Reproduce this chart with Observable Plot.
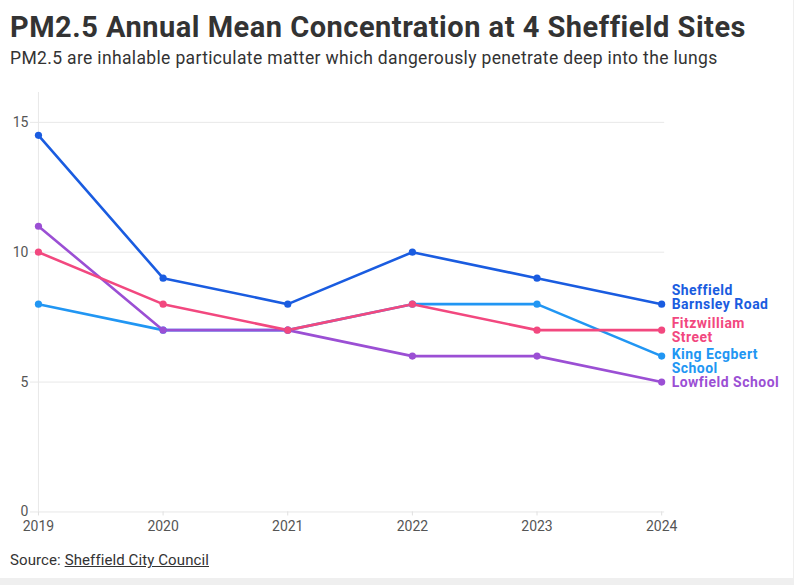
<!DOCTYPE html>
<html>
<head>
<meta charset="utf-8">
<script src="https://cdn.jsdelivr.net/npm/d3@7"></script>
<script src="https://cdn.jsdelivr.net/npm/@observablehq/plot@0.6"></script>
<style>
  html, body { margin: 0; padding: 0; background: #efefef; }
  #frame { width: 793px; height: 578px; background: #fff; position: relative; overflow: hidden; font-family: Roboto, "Noto Sans", sans-serif; }
  h1 { position: absolute; left: 10px; top: 10px; margin: 0; font-size: 29px; font-weight: 700; color: #333; letter-spacing: 0.5px; white-space: nowrap; }
  .sub { position: absolute; left: 10px; top: 48px; margin: 0; font-size: 17.5px; color: #333; letter-spacing: 0.35px; white-space: nowrap; }
  #chart { position: absolute; left: 0; top: 80px; }
  .src { position: absolute; left: 10px; top: 551px; font-size: 15px; color: #333; letter-spacing: 0.1px; }
  .src a { color: #333; text-decoration: underline; }
</style>
</head>
<body>
<div id="frame">
  <h1>PM2.5 Annual Mean Concentration at 4 Sheffield Sites</h1>
  <p class="sub">PM2.5 are inhalable particulate matter which dangerously penetrate deep into the lungs</p>
  <div id="chart"></div>
  <div class="src">Source: <a>Sheffield City Council</a></div>
</div>
<script>
const years = [2019, 2020, 2021, 2022, 2023, 2024];
const siteNames = ["Sheffield\nBarnsley Road", "Fitzwilliam\nStreet", "King Ecgbert\nSchool", "Lowfield School"];
const barnsleyRoad = [14.5, 9, 8, 10, 9, 8];
const fitzwilliam = [10, 8, 7, 8, 7, 7];
const kingEcgbert = [8, 7, 7, 8, 8, 6];
const lowfield = [11, 7, 7, 6, 6, 5];
const yTicks = [0, 5, 10, 15];
const colors = ["#1a5ce0", "#f2487f", "#2196f3", "#9b4fd4"];

const seriesValues = [barnsleyRoad, fitzwilliam, kingEcgbert, lowfield];
// draw order: light blue first so it sits beneath others
const drawOrder = [2, 3, 1, 0];
const rows = [];
drawOrder.forEach(i => {
  years.forEach((yr, j) => rows.push({site: siteNames[i], year: yr, value: seriesValues[i][j], color: colors[i]}));
});
const last = siteNames.map((s, i) => ({site: s, year: years[years.length - 1], value: seriesValues[i][years.length - 1], color: colors[i]}));
const labelDy = [-7, 0, 5, 0];

const chart = Plot.plot({
  width: 794,
  height: 450,
  marginLeft: 38,
  marginRight: 132,
  marginTop: 12,
  marginBottom: 18,
  x: {type: "linear", domain: [2019, 2024]},
  y: {domain: [0, 16.15]},
  style: {fontFamily: "Roboto, sans-serif", overflow: "visible"},
  marks: [
    Plot.ruleY(yTicks, {stroke: "#e8e8e8", strokeWidth: 1, insetLeft: -8, insetRight: -3}),
    Plot.ruleX([2019], {stroke: "#e8e8e8", strokeWidth: 1}),
    Plot.axisY(yTicks, {tickSize: 0, tickPadding: 10, fontSize: 14, color: "#555", label: null}),
    Plot.axisX(years, {tickSize: 4, tickPadding: 5, fontSize: 14, color: "#555", stroke: "#e0e0e0", tickFormat: d => String(d), label: null}),
    Plot.line(rows, {x: "year", y: "value", z: "site", stroke: "color", strokeWidth: 2.6, curve: "linear"}),
    Plot.dot(rows, {x: "year", y: "value", fill: "color", r: 3.6}),
    ...last.map((d, i) => Plot.text([d], {x: "year", y: "value", text: "site", fill: "color", dx: 10, dy: labelDy[i], textAnchor: "start", fontWeight: 700, fontSize: 14, lineHeight: 1})),
  ]
});
d3.select(chart).selectAll("g[aria-label=text] text").attr("letter-spacing", "0.5");
document.getElementById("chart").appendChild(chart);
</script>
</body>
</html>
